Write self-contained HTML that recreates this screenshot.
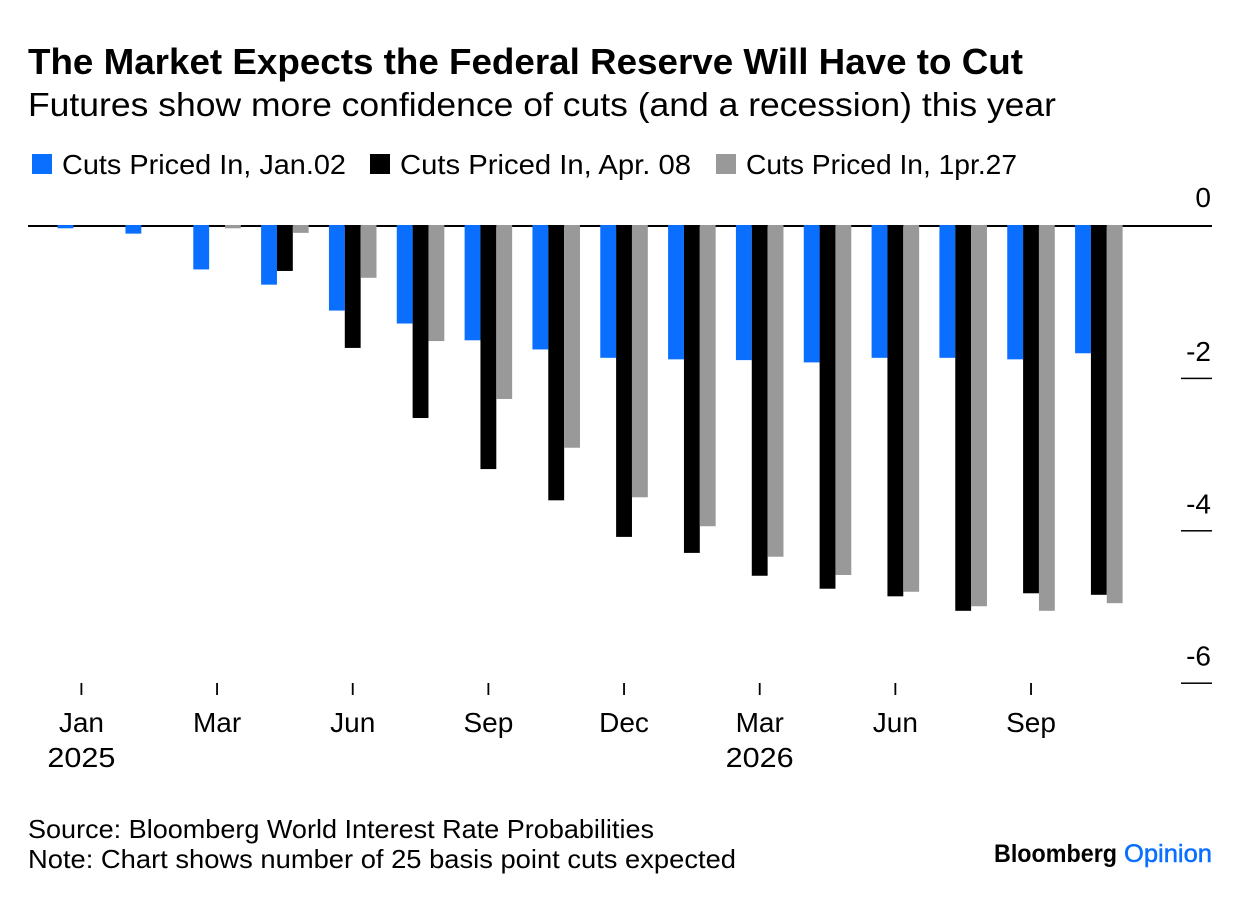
<!DOCTYPE html>
<html lang="en">
<head>
<meta charset="utf-8">
<title>The Market Expects the Federal Reserve Will Have to Cut</title>
<style>
html,body{margin:0;padding:0;background:#fff;width:1240px;height:898px;overflow:hidden}
svg{display:block}
text{font-family:"Liberation Sans",sans-serif;fill:#000}
</style>
</head>
<body>
<svg id="chart" width="1240" height="898" viewBox="0 0 1240 898" xmlns="http://www.w3.org/2000/svg">
<rect x="0" y="0" width="1240" height="898" fill="#fff"/>
<text x="28" y="74" font-size="36" font-weight="700" textLength="995" lengthAdjust="spacingAndGlyphs">The Market Expects the Federal Reserve Will Have to Cut</text>
<text x="28" y="116" font-size="33" textLength="1028" lengthAdjust="spacingAndGlyphs">Futures show more confidence of cuts (and a recession) this year</text>
<g>
<rect x="32" y="154" width="20" height="20" fill="#0a6fff"/>
<text x="62" y="174" font-size="28" textLength="284" lengthAdjust="spacingAndGlyphs">Cuts Priced In, Jan.02</text>
<rect x="370" y="154" width="20" height="20" fill="#000"/>
<text x="400" y="174" font-size="28" textLength="291" lengthAdjust="spacingAndGlyphs">Cuts Priced In, Apr. 08</text>
<rect x="716" y="154" width="20" height="20" fill="#999"/>
<text x="746" y="174" font-size="28" textLength="271" lengthAdjust="spacingAndGlyphs">Cuts Priced In, 1pr.27</text>
</g>
<g id="y-axis"></g>
<g id="bars"></g>
<g id="x-axis"></g>
<text x="28" y="838" font-size="26" textLength="626" lengthAdjust="spacingAndGlyphs">Source: Bloomberg World Interest Rate Probabilities</text>
<text x="28" y="868" font-size="26" textLength="708" lengthAdjust="spacingAndGlyphs">Note: Chart shows number of 25 basis point cuts expected</text>
<g>
<text x="994" y="862" font-size="25" font-weight="700" textLength="123" lengthAdjust="spacingAndGlyphs">Bloomberg</text>
<text x="1124" y="862" font-size="25" textLength="88" lengthAdjust="spacingAndGlyphs" style="fill:#0a6fff;stroke:#0a6fff;stroke-width:0.5">Opinion</text>
</g>
</svg>
<script>
const months = ["Jan","Feb","Mar","Apr","Jun","Jul","Sep","Oct","Dec","Jan","Mar","Apr","Jun","Aug","Sep","Oct"];
const seriesJan02 = [-0.03,-0.1,-0.57,-0.77,-1.11,-1.28,-1.5,-1.62,-1.73,-1.75,-1.76,-1.79,-1.73,-1.73,-1.75,-1.67];
const seriesApr08 = [0,0,0,-0.59,-1.6,-2.52,-3.19,-3.6,-4.08,-4.29,-4.59,-4.76,-4.86,-5.05,-4.82,-4.84];
const seriesApr27 = [0,0,-0.03,-0.09,-0.68,-1.51,-2.27,-2.91,-3.56,-3.94,-4.34,-4.58,-4.8,-4.99,-5.05,-4.95];
const yTicks = [0,-2,-4,-6];
const xTickCategories = [0,2,4,6,8,10,12,14];
const xTickLabels = ["Jan","Mar","Jun","Sep","Dec","Mar","Jun","Sep"];
const yearLabels = {0:"2025",5:"2026"};

const NS = "http://www.w3.org/2000/svg";
const yScale = v => 226 + (0 - v) * 76.2;
const xScale = i => 81.4 + i * 67.83;
const BAR_W = 15.85;
function svgEl(tag, attrs, parent){
  const el = document.createElementNS(NS, tag);
  for (const k in attrs) el.setAttribute(k, attrs[k]);
  parent.appendChild(el);
  return el;
}
const barsG = document.getElementById("bars");
const yG = document.getElementById("y-axis");
const xG = document.getElementById("x-axis");

const zero = svgEl("rect", {x:28, y:yScale(0)-1, width:1184, height:2, fill:"#000"}, yG);



const seriesList = [
  {key:"jan02", vals:seriesJan02, color:"#0a6fff", off:-1.5},
  {key:"apr08", vals:seriesApr08, color:"#000", off:-0.5},
  {key:"apr27", vals:seriesApr27, color:"#999", off:0.5}
];
seriesList.forEach(s => {
  s.vals.forEach((v, i) => {
    if (v === 0) return;
    const r = svgEl("rect", {
      x: xScale(i) + s.off * BAR_W,
      y: yScale(0) - 1,
      width: BAR_W,
      height: yScale(v) - yScale(0) + 1,
      fill: s.color
    }, barsG);
    
    
  });
});

yTicks.forEach(t => {
  const label = svgEl("text", {x:1211, y:yScale(t) - (t === 0 ? 19 : 17.5), "font-size":28, "text-anchor":"end"}, yG);
  label.textContent = String(t);
  
  
  if (t !== 0) {
    const line = svgEl("rect", {x:1181, y:yScale(t)-0.75, width:31, height:1.5, fill:"#000"}, yG);
    
    
  }
});

xTickCategories.forEach((c, i) => {
  const x = xScale(c);
  const tick = svgEl("rect", {x:x-0.9, y:683, width:1.8, height:12, fill:"#000"}, xG);
  
  
  const label = svgEl("text", {x:x, y:732, "font-size":28, "text-anchor":"middle"}, xG);
  label.textContent = xTickLabels[i];
  
  
  if (yearLabels[i]) {
    const year = svgEl("text", {x:x, y:767, "font-size":28, "text-anchor":"middle", textLength:68, lengthAdjust:"spacingAndGlyphs"}, xG);
    year.textContent = yearLabels[i];
    
    
  }
});
</script>
</body>
</html>
